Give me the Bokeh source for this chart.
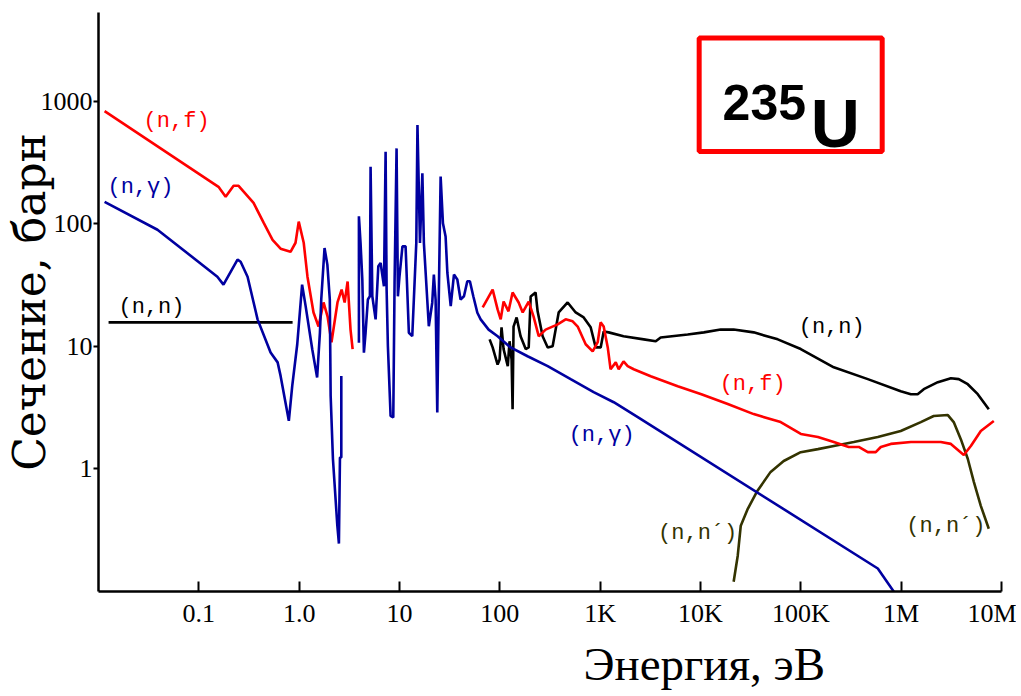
from bokeh.plotting import figure
from bokeh.models import FixedTicker, Label, BoxAnnotation, Range1d, Title
from bokeh.embed import file_html
from bokeh.resources import INLINE

# ---------------- data (energy in eV, cross-section in barn) ----------------
x_ticks = [0.1, 1, 10, 100, 1e3, 1e4, 1e5, 1e6, 1e7]
x_tick_labels = ["0.1", "1.0", "10", "100", "1K", "10K", "100K", "1M", "10M"]
y_ticks = [1, 10, 100, 1000]
y_tick_labels = ["1", "10", "100", "1000"]

# (n,f) fission
nf_e1 = [0.0115, 0.157, 0.185, 0.222, 0.249, 0.351, 0.442, 0.543, 0.653, 0.82, 0.92, 0.99,
         1.11, 1.21, 1.39, 1.56, 1.75, 1.92, 2.10, 2.41, 2.65, 2.84, 3.04, 3.25, 3.41]
nf_s1 = [830, 200, 166, 204, 204, 148, 102, 74, 62.6, 59, 70, 104,
         70, 37, 18.9, 14.5, 22.8, 17.5, 10.8, 22.8, 29, 22.8, 33.8, 13.7, 9.5]
nf_e2 = [67.5, 84.8, 95, 102, 109, 122, 134, 154, 169, 194, 217, 244, 286, 377, 453, 532, 597,
         717, 842, 945, 1010, 1084, 1190, 1270, 1430, 1530, 1710, 1880, 2160, 3190, 5930,
         1.02e4, 1.87e4, 3.39e4, 6.3e4, 1.0e5, 1.48e5, 2.13e5, 3.0e5, 3.78e5, 4.65e5, 5.58e5,
         6.27e5, 7.88e5, 1.25e6, 2.48e6, 3.13e6, 4.21e6, 4.95e6, 6.22e6, 8.38e6]
nf_s2 = [20.8, 29, 20, 16.6, 23.2, 19.3, 27.5, 22.8, 18.9, 23.2, 17.5, 12.1, 13.7, 15.1, 16.6, 16, 14.5,
         10.4, 9.1, 10.8, 15.7, 14.5, 9.8, 6.5, 7.4, 6.5, 7.55, 6.9, 6.5, 5.7, 4.73,
         4.07, 3.38, 2.8, 2.41, 1.93, 1.82, 1.66, 1.51, 1.51, 1.37, 1.37,
         1.51, 1.60, 1.66, 1.66, 1.60, 1.30, 1.54, 2.04, 2.46]

# (n,gamma) capture
ng_e1 = [0.0115, 0.0387, 0.153, 0.176, 0.243, 0.261, 0.306, 0.385, 0.519, 0.61, 0.653, 0.789,
         0.853, 0.957, 1.07, 1.16, 1.35, 1.51, 1.61, 1.66, 1.79, 1.91, 2.02, 2.06, 2.17, 2.40,
         2.49, 2.55, 2.63, 2.63]
ng_s1 = [151, 89.4, 37, 31.9, 51, 49, 37, 16.6, 8.9, 7.4, 5.74, 2.47,
         4.76, 10.4, 31.9, 21.3, 9.46, 5.57, 12.9, 24.1, 63.4, 46.4, 24.1, 3.94, 1.21, 0.346,
         0.246, 1.24, 1.24, 5.74]
ng_e2 = [3.94, 3.94, 4.09, 4.26, 4.42, 4.59, 4.84, 5.07, 5.15, 5.36, 5.78, 6.15, 6.48, 7.0, 7.27,
         7.44, 7.66, 8.15, 8.67, 8.93, 9.35, 9.64, 10.0, 10.7, 11.5, 12.4, 13.4, 13.9, 14.7, 15.1,
         16.0, 16.9, 17.5, 18.9, 19.6, 21.2, 22.0, 22.9, 23.8, 24.5, 25.7, 27.1, 28.8, 30.0, 32.4,
         34.9, 37.7, 40.6, 43.9, 47.4, 50.3, 54.4, 59.7, 64.4, 77.3, 95, 128, 189, 300, 508, 861,
         1365, 2370, 5.85e5, 8.8e5]
ng_s2 = [10.7, 115, 69.7, 35.1, 8.89, 12.9, 24.1, 25.6, 292, 25.6, 16.6, 45, 47.9, 30.9, 387,
         29.1, 10.1, 2.71, 2.63, 33, 412, 25.6, 37.3, 65.4, 65.4, 12.9, 12.1, 24.1, 69.7, 638,
         69.7, 258, 69.7, 24.1, 14.6, 22.7, 38.5, 24.1, 2.89, 18.8, 243, 101, 78.8, 39.7, 21.3,
         38.5, 35.1, 24.1, 25.6, 34, 34, 25.6, 18.8, 16.6, 13.7, 12.1, 9.8, 8.3, 6.9, 5.4, 4.23,
         3.5, 2.65, 0.154, 0.095]

# (n,n) elastic
nn_e1 = [0.0126, 0.86]
nn_s1 = [15.7, 15.7]
nn_e2 = [79.1, 84.8, 95, 99.5, 104, 109, 120, 125, 131, 134, 137, 147, 161, 181, 194, 203, 227,
         238, 267, 300, 336, 360, 386, 474, 570, 685, 804, 902, 1012, 1084, 1216, 1710, 2720,
         3580, 4010, 7450, 1.08e4, 1.59e4, 2.14e4, 3.39e4, 5.89e4, 9.98e4, 2.13e5, 4.65e5,
         9.9e5, 1.25e6, 1.46e6, 1.68e6, 2.32e6, 3.13e6, 3.75e6, 4.61e6, 5.8e6, 7.47e6]
nn_s2 = [11.4, 9.8, 7.1, 7.8, 14.3, 9.5, 6.9, 11, 7.8, 3.07, 14.5, 17.2, 12.1, 9.5, 9.8, 25.5, 27.5,
         19.3, 12.1, 9.8, 10, 13.7, 18.9, 22.8, 18.9, 17.2, 14.3, 9.8, 9.8, 13.2, 13, 12.1, 11.4,
         11, 11.8, 12.5, 13, 13.7, 13.7, 13, 11.4, 9.5, 6.75, 5.4,
         4.3, 4.07, 4.07, 4.47, 5.1, 5.5, 5.4, 4.91, 4.07, 3.07]

# (n,n') inelastic
ninel_e = [2.14e4, 2.35e4, 2.52e4, 2.96e4, 3.64e4, 5.0e4, 6.75e4, 9.98e4, 1.48e5, 2.13e5, 3.37e5,
           5.85e5, 9.9e5, 1.57e6, 2.11e6, 2.92e6, 3.34e6, 3.93e6, 4.61e6, 5.3e6, 6.22e6, 7.47e6]
ninel_s = [0.12, 0.196, 0.344, 0.473, 0.65, 0.946, 1.16, 1.37, 1.45, 1.54, 1.66,
           1.82, 2.04, 2.41, 2.7, 2.75, 2.41, 1.75, 1.21, 0.784, 0.5, 0.325]

RED = "#ff0000"
BLUE = "#0000a0"
BLACK = "#000000"
OLIVE = "#333300"

# ---------------- figure ----------------
p = figure(width=1016, height=694, x_axis_type="log", y_axis_type="log",
           x_range=Range1d(0.01, 1e7), y_range=Range1d(0.1, 5290),
           output_backend="svg", toolbar_location=None,
           min_border_left=98, min_border_right=15, min_border_top=12, min_border_bottom=102)
p.outline_line_color = None
p.xgrid.visible = False
p.ygrid.visible = False
p.background_fill_color = "white"
p.border_fill_color = "white"

for ax in (p.xaxis[0], p.yaxis[0]):
    ax.axis_line_width = 2.5
    ax.axis_line_color = "black"
    ax.major_tick_line_width = 2
    ax.major_tick_line_color = "black"
    ax.minor_tick_line_color = None
    ax.major_label_text_font = "Liberation Serif"
    ax.major_label_text_font_size = "26px"
    ax.major_label_text_color = "black"

p.xaxis.ticker = FixedTicker(ticks=x_ticks, minor_ticks=[])
p.xaxis.major_label_overrides = dict(zip(x_ticks, x_tick_labels))
p.xaxis.major_tick_in = 10
p.xaxis.major_tick_out = 0
p.xaxis.major_label_standoff = 7

p.yaxis.ticker = FixedTicker(ticks=y_ticks, minor_ticks=[])
p.yaxis.major_label_overrides = dict(zip(y_ticks, y_tick_labels))
p.yaxis.major_tick_in = 0
p.yaxis.major_tick_out = 5
p.yaxis.major_label_standoff = 1

# y axis title
p.yaxis.axis_label = "Сечение, барн"
p.yaxis.axis_label_text_font = "DejaVu Serif"
p.yaxis.axis_label_text_font_size = "44px"
p.yaxis.axis_label_text_font_style = "normal"
p.yaxis.axis_label_text_color = "black"
p.yaxis.axis_label_standoff = -17

# x axis title, right of centre as in the original
p.add_layout(Title(text="Энергия, эВ", align="left", offset=485, text_font="Liberation Serif",
                   text_font_size="47px", text_font_style="normal", text_color="black",
                   standoff=10), "below")

LW = 2.6
p.line(nn_e1, nn_s1, line_color=BLACK, line_width=LW)
p.line(nn_e2, nn_s2, line_color=BLACK, line_width=LW)
p.line(ninel_e, ninel_s, line_color=OLIVE, line_width=LW)
p.line(nf_e1, nf_s1, line_color=RED, line_width=LW)
p.line(nf_e2, nf_s2, line_color=RED, line_width=LW)
p.line(ng_e1, ng_s1, line_color=BLUE, line_width=LW)
p.line(ng_e2, ng_s2, line_color=BLUE, line_width=LW)

# curve labels
def curve_label(x, y, text, color):
    p.add_layout(Label(x=x, y=y, text=text, text_color=color, text_font="Liberation Mono",
                       text_font_size="22px", text_align="center", text_baseline="middle"))

curve_label(0.060, 688, "(n,f)", RED)
curve_label(0.0262, 196, "(n,γ)", BLUE)
curve_label(0.0337, 20.8, "(n,n)", BLACK)
curve_label(2.03e5, 14.3, "(n,n)", BLACK)
curve_label(3.31e4, 4.91, "(n,f)", RED)
curve_label(1035, 1.89, "(n,γ)", BLUE)
curve_label(9380, 0.296, "(n,n´)", OLIVE)
curve_label(2.79e6, 0.337, "(n,n´)", OLIVE)

# isotope box
p.add_layout(BoxAnnotation(left=9700, right=6.47e5, top=3283, bottom=388,
                           fill_color=None, fill_alpha=0, line_color=RED, line_alpha=1.0,
                           line_width=5))
p.add_layout(Label(x=1.66e4, y=982, text="235", text_font="Liberation Sans",
                   text_font_style="bold", text_font_size="50px", text_color="black",
                   text_align="left", text_baseline="alphabetic"))
p.add_layout(Label(x=1.256e5, y=662, text="U", text_font="Liberation Sans",
                   text_font_style="bold", text_font_size="68px", text_color="black",
                   text_align="left", text_baseline="alphabetic"))

open("out.html", "w").write(file_html(p, INLINE))
